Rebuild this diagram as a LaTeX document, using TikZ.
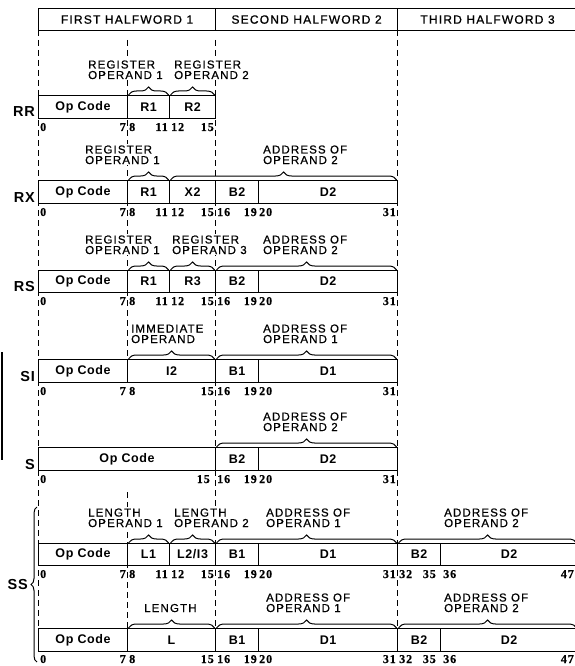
\documentclass[tikz,border=0pt]{standalone}
\usepackage{fontspec}
\setmainfont{Liberation Sans}
\newfontfamily\mylblfam[LetterSpace=10, FakeBold=0.8]{Liberation Sans}
\newfontfamily\myboxfam[LetterSpace=5]{Liberation Sans}
\newfontfamily\mynumfam[LetterSpace=8, FakeBold=0.5]{Liberation Serif}
\usetikzlibrary{decorations.pathreplacing}
\newcounter{nn}
\newcommand\myfldfont{\myboxfam\bfseries\fontsize{12.5}{14}\selectfont}
\newcommand\mylblfont{\mylblfam\fontsize{11.5}{10.5}\selectfont}
\newcommand\myhdrfont{\mylblfam\fontsize{12}{14}\selectfont}
\newcommand\mynumfont{\mynumfam\bfseries\fontsize{12}{13}\selectfont}
\newcommand\myrowfont{\myboxfam\bfseries\fontsize{14.5}{16}\selectfont}
\tikzset{
  fldbox/.style={draw, line width=1.1pt, fill=white, inner sep=0pt, anchor=north west, font=\myfldfont},
  lbl/.style={font=\mylblfont, align=left, inner sep=1pt, fill=white, anchor=base west},
  bitn/.style={font=\mynumfont, inner sep=0pt},
  rowname/.style={font=\myrowfont, inner sep=0pt, anchor=base east},
  guide/.style={dash pattern=on 6pt off 4pt, line width=1pt},
  brc/.style={decorate, decoration={brace, amplitude=8pt}, line width=1pt}
}
\newcommand\fld[6]{\node[fldbox, minimum width={#3pt-#2pt}, minimum height={#5pt-#4pt}] (#1) at (#2,#4) {#6};}
\newcommand\bl[3]{\stepcounter{nn}\node[bitn, anchor=base west] (n\thenn) at (#1,#2) {#3};}
\newcommand\br[3]{\stepcounter{nn}\node[bitn, anchor=base east] (n\thenn) at (#1,#2) {#3};}
\newcommand\lbl[4]{\node[lbl] (#1) at (#2,#3) {#4};}
\newcommand\ubr[2]{\draw[brc] ([xshift=1.5pt]#1.north west) -- ([xshift=-1.5pt]#2.north east);}
\begin{document}
\begin{tikzpicture}[x=1pt,y=-1pt]
\useasboundingbox[fill=white] (0,0) rectangle (575,666);
% guide lines
\draw[guide] (38,30) -- (38,628);
\draw[guide] (127,40) -- (127,359);
\draw[guide] (127,492) -- (127,628);
\draw[guide] (215,40) -- (215,628);
\draw[guide] (397,30) -- (397,651);
\draw[line width=1.6pt] (2,352) -- (2,460);
% header
\node[fldbox, font=\myhdrfont, minimum width=177pt, minimum height=22pt] (h1) at (38,8) {FIRST HALFWORD 1};
\node[fldbox, font=\myhdrfont, minimum width=182pt, minimum height=22pt] (h2) at (215,8) {SECOND HALFWORD 2};
\node[fldbox, font=\myhdrfont, minimum width=180pt, minimum height=22pt] (h3) at (397,8) {THIRD HALFWORD 3};
% RR
\fld{rr-op}{38}{127}{95}{118}{Op Code}
\fld{rr-r1}{127}{169}{95}{118}{R1}
\fld{rr-r2}{169}{215}{95}{118}{R2}
\node[rowname] (lrr) at (35,117) {RR};
\lbl{rr-l1}{87}{79}{REGISTER\\OPERAND 1}
\lbl{rr-l2}{173}{79}{REGISTER\\OPERAND 2}
\ubr{rr-r1}{rr-r1}\ubr{rr-r2}{rr-r2}
\bl{40}{131}{0}\br{126}{131}{7}\bl{129}{131}{8}\br{168}{131}{11}\bl{171}{131}{12}\br{214}{131}{15}
% RX
\fld{rx-op}{38}{127}{180}{203}{Op Code}
\fld{rx-r1}{127}{169}{180}{203}{R1}
\fld{rx-x2}{169}{215}{180}{203}{X2}
\fld{rx-b2}{215}{258}{180}{203}{B2}
\fld{rx-d2}{258}{397}{180}{203}{D2}
\node[rowname] (lrx) at (35,202) {RX};
\lbl{rx-l1}{84}{164}{REGISTER\\OPERAND 1}
\lbl{rx-l2}{262}{164}{ADDRESS OF\\OPERAND 2}
\ubr{rx-r1}{rx-r1}\ubr{rx-x2}{rx-d2}
\bl{40}{216}{0}\br{126}{216}{7}\bl{129}{216}{8}\br{168}{216}{11}\bl{171}{216}{12}\br{214}{216}{15}\bl{217}{216}{16}\br{257}{216}{19}\bl{259}{216}{20}\br{396}{216}{31}
% RS
\fld{rs-op}{38}{127}{270}{292}{Op Code}
\fld{rs-r1}{127}{169}{270}{292}{R1}
\fld{rs-r3}{169}{215}{270}{292}{R3}
\fld{rs-b2}{215}{258}{270}{292}{B2}
\fld{rs-d2}{258}{397}{270}{292}{D2}
\node[rowname] (lrs) at (35,291) {RS};
\lbl{rs-l1}{84}{254}{REGISTER\\OPERAND 1}
\lbl{rs-l2}{171}{254}{REGISTER\\OPERAND 3}
\lbl{rs-l3}{262}{254}{ADDRESS OF\\OPERAND 2}
\ubr{rs-r1}{rs-r1}\ubr{rs-r3}{rs-r3}\ubr{rs-b2}{rs-d2}
\bl{40}{305}{0}\br{126}{305}{7}\bl{129}{305}{8}\br{168}{305}{11}\bl{171}{305}{12}\br{214}{305}{15}\bl{217}{305}{16}\br{257}{305}{19}\bl{259}{305}{20}\br{396}{305}{31}
% SI
\fld{si-op}{38}{127}{359}{382}{Op Code}
\fld{si-i2}{127}{215}{359}{382}{I2}
\fld{si-b1}{215}{258}{359}{382}{B1}
\fld{si-d1}{258}{397}{359}{382}{D1}
\node[rowname] (lsi) at (35,381) {SI};
\lbl{si-l1}{130}{343}{IMMEDIATE\\OPERAND}
\lbl{si-l2}{262}{343}{ADDRESS OF\\OPERAND 1}
\ubr{si-i2}{si-i2}\ubr{si-b1}{si-d1}
\bl{40}{395}{0}\br{126}{395}{7}\bl{129}{395}{8}\br{214}{395}{15}\bl{217}{395}{16}\br{257}{395}{19}\bl{259}{395}{20}\br{396}{395}{31}
% S
\fld{s-op}{38}{215}{447}{470}{Op Code}
\fld{s-b2}{215}{258}{447}{470}{B2}
\fld{s-d2}{258}{397}{447}{470}{D2}
\node[rowname] (ls) at (35,469) {S};
\lbl{s-l1}{262}{431}{ADDRESS OF\\OPERAND 2}
\ubr{s-b2}{s-d2}
\bl{40}{483}{0}\br{210}{483}{15}\bl{217}{483}{16}\br{257}{483}{19}\bl{259}{483}{20}\br{396}{483}{31}
% SS 1
\fld{ss1-op}{38}{127}{543}{565}{Op Code}
\fld{ss1-l1}{127}{169}{543}{565}{L1}
\fld{ss1-l2}{169}{215}{543}{565}{L2/I3}
\fld{ss1-b1}{215}{258}{543}{565}{B1}
\fld{ss1-d1}{258}{397}{543}{565}{D1}
\fld{ss1-b2}{397}{440}{543}{565}{B2}
\fld{ss1-d2}{440}{577}{543}{565}{D2}
\lbl{ss1-la}{87}{527}{LENGTH\\OPERAND 1}
\lbl{ss1-lb}{173}{527}{LENGTH\\OPERAND 2}
\lbl{ss1-lc}{265}{527}{ADDRESS OF\\OPERAND 1}
\lbl{ss1-ld}{443}{527}{ADDRESS OF\\OPERAND 2}
\ubr{ss1-l1}{ss1-l1}\ubr{ss1-l2}{ss1-l2}\ubr{ss1-b1}{ss1-d1}\ubr{ss1-b2}{ss1-d2}
\bl{40}{578}{0}\br{126}{578}{7}\bl{129}{578}{8}\br{168}{578}{11}\bl{171}{578}{12}\br{214}{578}{15}\bl{217}{578}{16}\br{257}{578}{19}\bl{259}{578}{20}\br{396}{578}{31}\bl{399}{578}{32}\br{436}{578}{35}\bl{443}{578}{36}\br{574}{578}{47}
% SS 2
\fld{ss2-op}{38}{127}{628}{651}{Op Code}
\fld{ss2-l}{127}{215}{628}{651}{L}
\fld{ss2-b1}{215}{258}{628}{651}{B1}
\fld{ss2-d1}{258}{397}{628}{651}{D1}
\fld{ss2-b2}{397}{440}{628}{651}{B2}
\fld{ss2-d2}{440}{577}{628}{651}{D2}
\lbl{ss2-la}{143}{612}{LENGTH}
\lbl{ss2-lc}{265}{612}{ADDRESS OF\\OPERAND 1}
\lbl{ss2-ld}{443}{612}{ADDRESS OF\\OPERAND 2}
\ubr{ss2-l}{ss2-l}\ubr{ss2-b1}{ss2-d1}\ubr{ss2-b2}{ss2-d2}
\bl{40}{663}{0}\br{126}{663}{7}\bl{129}{663}{8}\br{214}{663}{15}\bl{217}{663}{16}\br{257}{663}{19}\bl{259}{663}{20}\br{396}{663}{31}\bl{399}{663}{32}\br{436}{663}{35}\bl{443}{663}{36}\br{574}{663}{47}
% SS row name and brace
\node[rowname, anchor=east] (lss) at (28,585) {SS};
\coordinate (ssbot) at (37,662);
\coordinate (sstop) at (37,507);
\draw[brc, decoration={brace, amplitude=6pt}] (ssbot) -- (sstop);
\end{tikzpicture}
\end{document}
